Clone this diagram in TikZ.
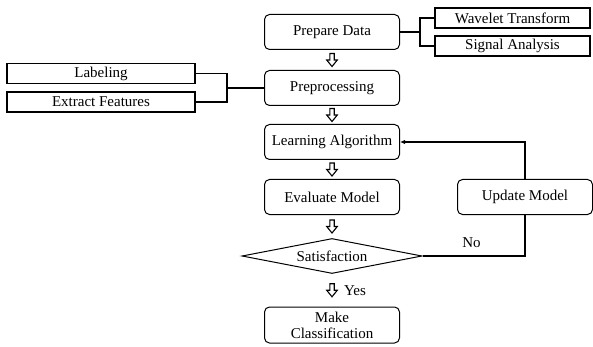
\documentclass[tikz,border=0pt]{standalone}
\usepackage{fontspec}
\setmainfont{Liberation Serif}
\newfontfamily\timesf{Liberation Serif}
\usetikzlibrary{calc,shapes.geometric,arrows.meta}
\begin{document}
\begin{tikzpicture}[x=1pt,y=-1pt,
  txt/.style={font=\timesf\fontsize{15}{16}\selectfont},
  box/.style={txt, draw, rounded corners=5pt, line width=1pt, minimum width=135pt, minimum height=35pt, inner sep=0pt, align=center},
  side/.style={txt, draw, line width=1.5pt, minimum width=187pt, minimum height=20pt, inner sep=0pt},
  link/.style={line width=1.2pt},
  hollow/.pic={\draw[line width=1.1pt, line join=miter] (-2.2,-6.5) -- (2.2,-6.5) -- (2.2,0) -- (5.3,0) -- (0,6.5) -- (-5.3,0) -- (-2.2,0) -- cycle;}
]
\useasboundingbox (0,0) rectangle (593,347);
% main column
\node[box] (prep) at (332,32) {Prepare Data};
\node[box] (pre) at (332,88) {Preprocessing};
\node[box] (learn) at (332,142) {Learning Algorithm};
\node[box] (eval) at (332,197) {Evaluate Model};
\node[box] (upd) at (525,197) {Update Model};
\node[txt, draw, diamond, aspect=5.14, minimum width=180pt, minimum height=35pt, inner sep=0pt, line width=1pt] (sat) at (332,256) {Satisfaction};
\node[box, minimum height=36pt] (make) at (332,325) {Make\\Classification};
% side boxes
\node[side, minimum width=155pt] (wav) at (512.5,18) {Wavelet Transform};
\node[side, minimum width=155pt] (sig) at (512.5,46) {Signal Analysis};
\node[side, minimum width=188pt] (lab) at (101,73.5) {Labeling};
\node[side, minimum width=188pt] (ext) at (101,102) {Extract Features};
% side connectors
\coordinate (j1) at (420,32);
\draw[link] (prep.east) -- (j1);
\draw[link] (wav.west) -| (j1) |- (sig.west);
\coordinate (j2) at (227,88);
\draw[link] (pre.west) -- (j2);
\draw[link] (lab.east) -| (j2) |- (ext.east);
% hollow arrows
\pic at ($(prep.south)!0.5!(pre.north)$) {hollow};
\pic at ($(pre.south)!0.5!(learn.north)$) {hollow};
\pic at ($(learn.south)!0.5!(eval.north)$) {hollow};
\pic at ($(eval.south)!0.5!(sat.north)$) {hollow};
\pic at ($(sat.south)!0.5!(make.north)$) {hollow};
% loop
\draw[link] (sat.east) -| (upd.south);
\draw[link, -{Latex[length=5pt,width=4.5pt]}] (upd.north) |- (learn.east);
\node[txt] (no) at (471.5,243) {No};
\node[txt] (yes) at (355,291) {Yes};
\end{tikzpicture}
\end{document}
